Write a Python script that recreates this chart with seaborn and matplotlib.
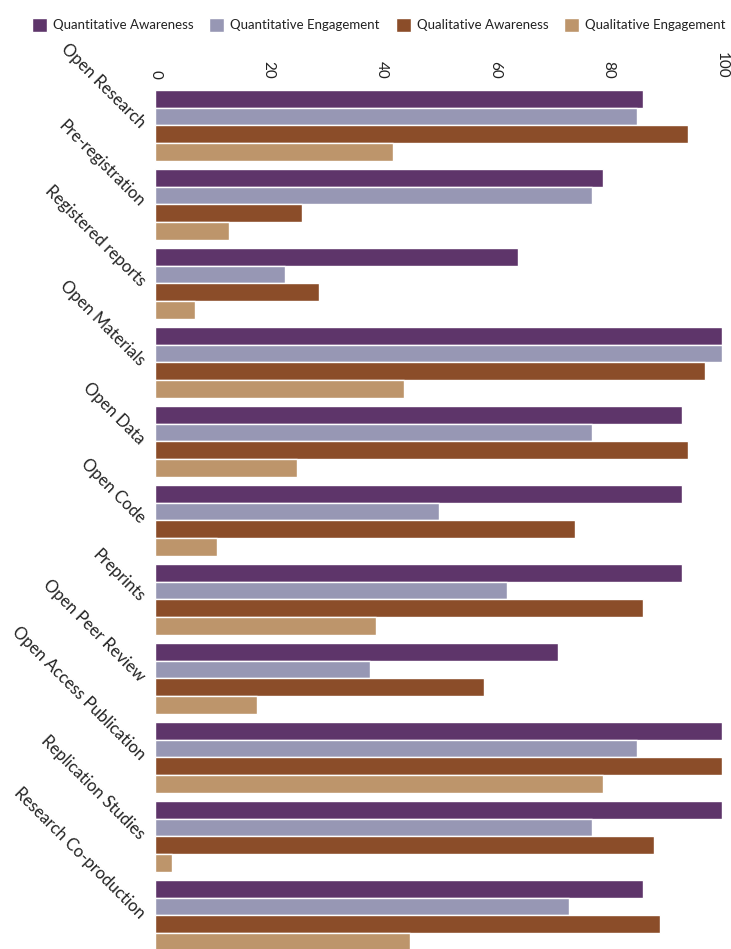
import matplotlib
matplotlib.use("Agg")
import matplotlib.pyplot as plt
import pandas as pd
import seaborn as sns

practices = [
    "Open Research", "Pre-registration", "Registered reports", "Open Materials",
    "Open Data", "Open Code", "Preprints", "Open Peer Review",
    "Open Access Publication", "Replication Studies", "Research Co-production",
]
series = [
    "Quantitative Awareness", "Quantitative Engagement",
    "Qualitative Awareness", "Qualitative Engagement",
]
quant_awareness = [86, 79, 64, 100, 93, 93, 93, 71, 100, 100, 86]
quant_engagement = [85, 77, 23, 100, 77, 50, 62, 38, 85, 77, 73]
qual_awareness = [94, 26, 29, 97, 94, 74, 86, 58, 100, 88, 89]
qual_engagement = [42, 13, 7, 44, 25, 11, 39, 18, 79, 3, 45]
x_ticks = [0, 20, 40, 60, 80, 100]

colors = ["#5e356a", "#9797b4", "#8b4d29", "#bd956b"]

sns.set_theme(style="white")
plt.rcParams["font.family"] = ["Lato", "DejaVu Sans"]

df = pd.DataFrame({
    "Practice": practices * 4,
    "Group": [s for s in series for _ in practices],
    "Percent": quant_awareness + quant_engagement + qual_awareness + qual_engagement,
})

fig = plt.figure(figsize=(7.31, 9.49), dpi=100)
W, H = 731, 949
top_px, slot_px = 86, 79
ax_h = len(practices) * slot_px
ax = fig.add_axes([155 / W, 1 - (top_px + ax_h) / H, (722 - 155) / W, ax_h / H])

sns.barplot(
    data=df, y="Practice", x="Percent", hue="Group", orient="h",
    order=practices, hue_order=series, palette=colors, saturation=1,
    width=0.9, edgecolor="white", linewidth=1, ax=ax,
)

handles, labels = ax.get_legend_handles_labels()
ax.get_legend().remove()
fig.legend(
    handles, labels, loc="center", bbox_to_anchor=(0.518, 1 - 25 / H), ncol=4,
    frameon=False, fontsize=9.5, handlelength=1.15, handleheight=1.15,
    handletextpad=0.45, columnspacing=1.2, labelcolor="#222222",
)

ax.set_xlim(0, 100)
ax.set_ylim(len(practices) - 0.5, -0.5)
ax.xaxis.tick_top()
ax.set_xticks(x_ticks)
ax.set_xticklabels([str(t) for t in x_ticks], rotation=-90, fontsize=11, color="#222222")
ax.tick_params(axis="x", length=0, pad=5)
ax.tick_params(axis="y", length=0, pad=9)
for lbl in ax.get_yticklabels():
    lbl.set_rotation(-45)
    lbl.set_rotation_mode("anchor")
    lbl.set_ha("right")
    lbl.set_va("center")
    lbl.set_fontsize(12)
    lbl.set_color("#222222")
ax.set_xlabel("")
ax.set_ylabel("")
sns.despine(ax=ax, left=True, bottom=True, top=True, right=True)

fig.savefig("out.png", dpi=100)
